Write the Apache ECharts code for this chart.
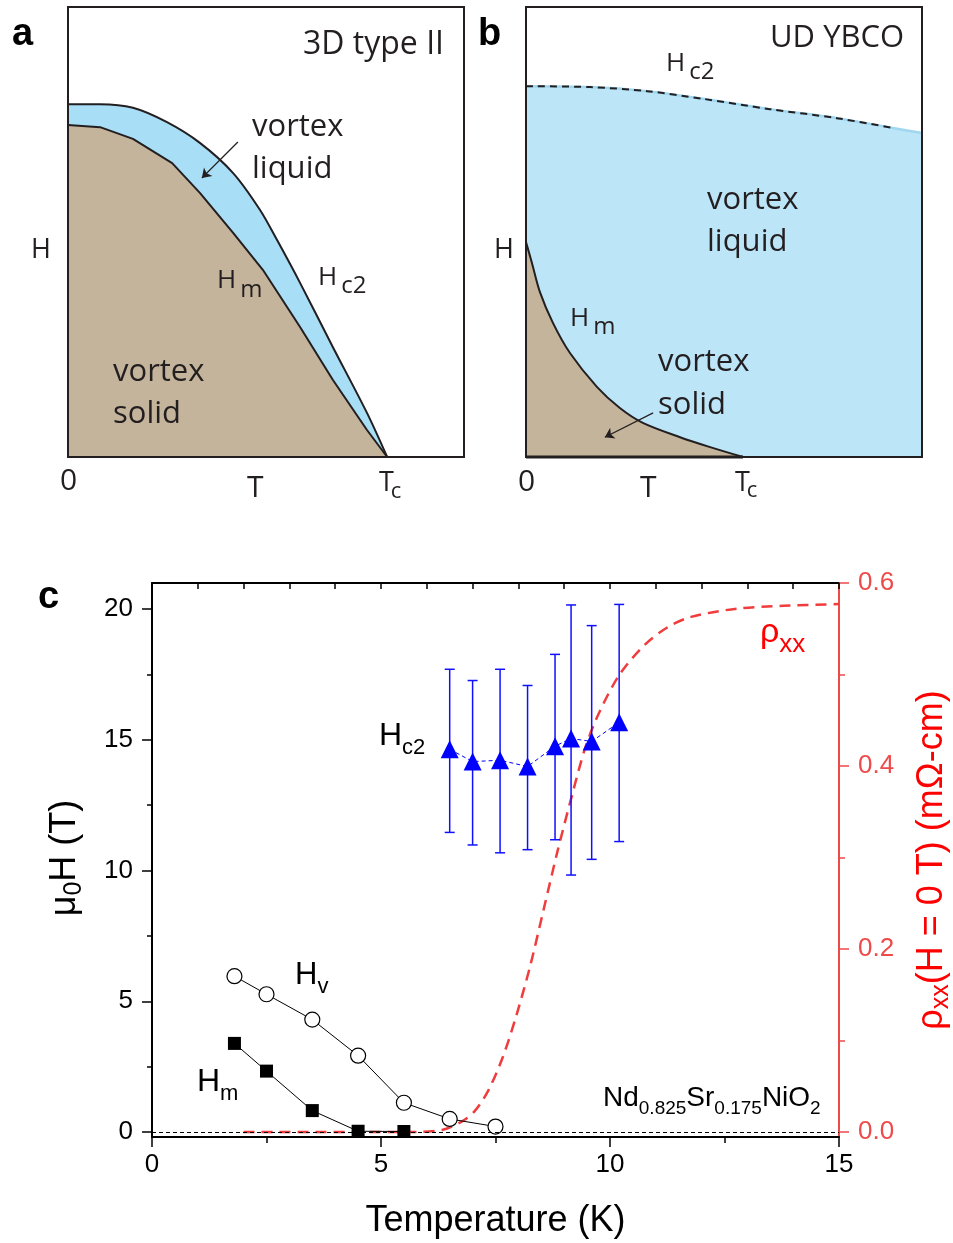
<!DOCTYPE html>
<html>
<head>
<meta charset="utf-8">
<script src="https://cdn.jsdelivr.net/npm/echarts@6/dist/echarts.min.js"></script>
<style>
html, body { margin: 0; padding: 0; background: #fff; }
#chart { width: 953px; height: 1243px; }
</style>
</head>
<body>
<div id="chart"></div>
<script>
// ---- panel a: 3D type II schematic (units: % of the box) ----
const aHc2 = [[0, 78.4], [8.1, 78.4], [16.4, 77.6], [25, 74.4], [33.3, 69.8], [41.7, 63.1], [48.5, 54.9], [52.8, 48.2], [58.6, 38.7], [66.9, 24.4], [75.5, 9.8], [80.6, 0]];
const aHm = [[0, 73.8], [8.1, 73.3], [16.4, 70.7], [26.3, 65.3], [33.3, 58.7], [41.7, 49.8], [49.2, 41.6], [58.6, 28.9], [66.9, 17.1], [75.5, 6], [80.6, 0]];
const aArrow = [[42.9, 70], [33.8, 62]];

// ---- panel b: UD YBCO schematic ----
const bHc2 = [[0, 82.4], [16.2, 82.2], [30.6, 81.3], [44.7, 79.6], [61.6, 77.3], [78.5, 75.3], [92.7, 73.1], [100, 72]];
const bHm = [[0, 47.8], [1.5, 43.1], [3.5, 36.7], [6.8, 29.8], [11.1, 23.1], [17.9, 15.6], [23.7, 10.9], [29.5, 7.6], [38.9, 4.4], [46.5, 2.2], [54.8, 0]];
const bArrow = [[32.1, 9.8], [19.9, 4.4]];

// ---- panel c: Nd0.825Sr0.175NiO2 ----
const hc2T = [6.5, 7.0, 7.6, 8.2, 8.8, 9.15, 9.6, 10.2];
const hc2 = [14.64, 14.17, 14.22, 13.98, 14.76, 15.05, 14.94, 15.67];
const hc2Hi = [17.70, 17.27, 17.70, 17.08, 18.27, 20.16, 19.37, 20.18];
const hc2Lo = [11.46, 10.98, 10.68, 10.80, 11.18, 9.83, 10.43, 11.11];
const hvT = [1.8, 2.5, 3.5, 4.5, 5.5, 6.5, 7.5];
const hv = [5.96, 5.27, 4.30, 2.92, 1.12, 0.50, 0.21];
const hmT = [1.8, 2.5, 3.5, 4.5, 5.5];
const hm = [3.39, 2.33, 0.82, 0.03, 0.02];
const rhoT = [2.0, 5.75, 6.35, 6.75, 7.05, 7.35, 7.66, 7.96, 8.26, 8.56, 8.86, 9.16, 9.46, 9.76, 10.21, 10.77, 11.27, 11.77, 12.77, 13.78, 15];
const rho = [0, 0, 0.0025, 0.011, 0.023, 0.046, 0.082, 0.128, 0.182, 0.245, 0.308, 0.366, 0.42, 0.458, 0.5, 0.533, 0.552, 0.563, 0.572, 0.575, 0.577];
const leftTicks = [0, 5, 10, 15, 20];
const leftMinor = [2.5, 7.5, 12.5, 17.5];
const rightTicks = [0, 0.2, 0.4, 0.6];
const rightMinor = [0.1, 0.3, 0.5];

const INK = '#231f20';
const SANS = 'Liberation Sans';
const MYR = 'Open Sans';
const RED = '#ef4a4a';

const chart = echarts.init(document.getElementById('chart'));

// text made of pieces (for subscripts); x,y = start / middle line
const meas = document.createElement('canvas').getContext('2d');
function label(x, y, parts, opt) {
  opt = opt || {};
  const family = opt.family || SANS;
  const weight = opt.weight || 'normal';
  const color = opt.color || '#000';
  let cx = 0;
  const kids = [];
  parts.forEach(function (p) {
    const size = p[1], dy = p[2] || 0, dx = p[3] || 0;
    cx += dx;
    kids.push({
      type: 'text', x: cx, y: dy, z: 100,
      style: { text: p[0], fill: color, fontSize: size, fontFamily: family, fontWeight: weight, align: 'left', verticalAlign: 'middle' }
    });
    meas.font = weight + ' ' + size + 'px "' + family + '"';
    cx += meas.measureText(p[0]).width;
  });
  if (opt.center) kids.forEach(function (k) { k.x -= cx / 2; });
  return { type: 'group', x: x, y: y, z: 100, rotation: opt.rotation || 0, silent: true, children: kids };
}

const hidden = function (grid) { return { type: 'value', gridIndex: grid, min: 0, max: 100, show: false }; };
const schemLine = function (grid, data, line, area, z, smooth) {
  return {
    type: 'line', xAxisIndex: grid, yAxisIndex: grid, data: data, symbol: 'none', smooth: smooth || false,
    lineStyle: line, areaStyle: area ? { color: area, opacity: 1 } : undefined, z: z, silent: true, clip: false
  };
};
const arrow = function (pts) {
  return {
    symbol: ['none', 'arrow'], symbolSize: 9, silent: true, label: { show: false },
    lineStyle: { color: INK, width: 1.2, type: 'solid' },
    data: [[{ coord: pts[0] }, { coord: pts[1] }]]
  };
};

const tickStyle = { color: '#000', width: 1.5 };

chart.setOption({
  animation: false,
  grid: [
    { left: 68, top: 7, width: 396, height: 450, show: true, borderColor: INK, borderWidth: 2, backgroundColor: 'transparent', z: 5 },
    { left: 526, top: 7, width: 396, height: 450, show: true, borderColor: INK, borderWidth: 2, backgroundColor: 'transparent', z: 5 },
    { left: 152, top: 583, width: 687, height: 554 },
    { left: 152, top: 583, width: 687, height: 554 }
  ],
  xAxis: [
    hidden(0), hidden(1),
    {
      type: 'value', gridIndex: 2, position: 'bottom', min: 0, max: 15, interval: 5,
      axisLine: { onZero: false, lineStyle: { color: '#000', width: 2 } },
      axisTick: { length: 10, lineStyle: tickStyle },
      minorTick: { show: true, splitNumber: 2, length: 6, lineStyle: tickStyle },
      axisLabel: { fontSize: 26, fontFamily: SANS, color: '#000', margin: 15 },
      splitLine: { show: false }
    },
    {
      type: 'value', gridIndex: 2, position: 'top', min: 0, max: 15, interval: 1,
      axisLine: { onZero: false, lineStyle: { color: '#000', width: 2 } },
      axisTick: { inside: true, length: 6, lineStyle: tickStyle },
      axisLabel: { show: false }, splitLine: { show: false }
    },
    { type: 'value', gridIndex: 3, min: 0, max: 15, show: false }
  ],
  yAxis: [
    hidden(0), hidden(1),
    {
      type: 'value', gridIndex: 2, position: 'left', min: -0.19, max: 21,
      axisLine: { show: true, onZero: false, lineStyle: { color: '#000', width: 2 } },
      axisTick: { show: true, length: 10, customValues: leftTicks, lineStyle: tickStyle },
      axisLabel: { customValues: leftTicks, fontSize: 26, fontFamily: SANS, color: '#000', margin: 19 },
      splitLine: { show: false }
    },
    {
      type: 'value', gridIndex: 2, position: 'right', min: -0.0055, max: 0.6,
      axisLine: { show: true, onZero: false, lineStyle: { color: RED, width: 2 } },
      axisTick: { show: true, length: 10, customValues: rightTicks, lineStyle: { color: RED, width: 1.5 } },
      axisLabel: { customValues: rightTicks, formatter: function (v) { return v.toFixed(1); }, fontSize: 26, fontFamily: SANS, color: RED, margin: 19 },
      splitLine: { show: false }
    },
    {
      type: 'value', gridIndex: 3, position: 'left', min: -0.19, max: 21,
      axisLine: { show: false, onZero: false },
      axisTick: { show: true, length: 5, customValues: leftMinor, lineStyle: tickStyle },
      axisLabel: { show: false }, splitLine: { show: false }
    },
    {
      type: 'value', gridIndex: 3, position: 'right', min: -0.0055, max: 0.6,
      axisLine: { show: false, onZero: false },
      axisTick: { show: true, length: 6, customValues: rightMinor, lineStyle: { color: RED, width: 1.5 } },
      axisLabel: { show: false }, splitLine: { show: false }
    }
  ],
  series: [
    // panel a
    schemLine(0, aHc2, { color: INK, width: 2 }, '#a9def7', 1, 0.3),
    Object.assign(schemLine(0, aHm, { color: INK, width: 2 }, '#c4b49b', 2), { markLine: arrow(aArrow) }),
    // panel b
    schemLine(1, bHc2, { color: '#9fd6f0', width: 2.5 }, '#bde5f8', 1, 0.3),
    Object.assign(schemLine(1, bHm, { color: INK, width: 2 }, '#c4b49b', 2, 0.3), { markLine: arrow(bArrow) }),
    schemLine(1, bHc2.slice(0, 7), { color: INK, width: 2, type: [7, 5] }, null, 3, 0.3),
    schemLine(1, [[bHm[0][0], 0], [bHm[bHm.length - 1][0], 0]], { color: INK, width: 3 }, null, 3),
    // panel c
    {
      name: 'rho', type: 'line', xAxisIndex: 2, yAxisIndex: 3,
      data: rhoT.map(function (t, i) { return [t, rho[i]]; }),
      symbol: 'none', smooth: 0.3, z: 2,
      lineStyle: { color: '#f03c3c', width: 2.5, type: [11, 7] }
    },
    {
      name: 'Hc2 err', type: 'custom', xAxisIndex: 2, yAxisIndex: 2, z: 3,
      data: hc2T.map(function (t, i) { return [t, hc2Lo[i], hc2Hi[i]]; }),
      encode: { x: 0, y: [1, 2] },
      renderItem: function (params, api) {
        const x = api.value(0);
        const lo = api.coord([x, api.value(1)]);
        const hi = api.coord([x, api.value(2)]);
        const w = 5;
        const st = { stroke: '#1010ff', lineWidth: 1.5 };
        return {
          type: 'group', children: [
            { type: 'line', shape: { x1: lo[0], y1: lo[1], x2: hi[0], y2: hi[1] }, style: st },
            { type: 'line', shape: { x1: lo[0] - w, y1: lo[1], x2: lo[0] + w, y2: lo[1] }, style: st },
            { type: 'line', shape: { x1: hi[0] - w, y1: hi[1], x2: hi[0] + w, y2: hi[1] }, style: st }
          ]
        };
      }
    },
    {
      name: 'Hc2', type: 'line', xAxisIndex: 2, yAxisIndex: 2, z: 4,
      data: hc2T.map(function (t, i) { return [t, hc2[i]]; }),
      symbol: 'triangle', symbolSize: 18,
      itemStyle: { color: '#0000ff' },
      lineStyle: { color: '#0000ff', width: 1, type: [4, 3] }
    },
    {
      name: 'Hv', type: 'line', xAxisIndex: 2, yAxisIndex: 2, z: 4,
      data: hvT.map(function (t, i) { return [t, hv[i]]; }),
      symbol: 'circle', symbolSize: 15,
      itemStyle: { color: '#fff', borderColor: '#000', borderWidth: 1.2 },
      lineStyle: { color: '#000', width: 1 }
    },
    {
      name: 'Hm', type: 'line', xAxisIndex: 2, yAxisIndex: 2, z: 4,
      data: hmT.map(function (t, i) { return [t, hm[i]]; }),
      symbol: 'rect', symbolSize: 13,
      itemStyle: { color: '#000' },
      lineStyle: { color: '#000', width: 1 },
      markLine: {
        symbol: 'none', silent: true, label: { show: false },
        lineStyle: { color: '#000', width: 1, type: [4, 3] },
        data: [{ yAxis: 0 }]
      }
    }
  ],
  graphic: [
    // panel a
    label(12, 35, [['a', 38]], { weight: 'bold' }),
    label(303, 45, [['3D type II', 32]], { family: MYR, color: INK }),
    label(252, 127, [['vortex', 31]], { family: MYR, color: INK }),
    label(252, 169, [['liquid', 31]], { family: MYR, color: INK }),
    label(31, 250, [['H', 27]], { family: MYR, color: INK }),
    label(217, 281, [['H', 26], ['m', 24, 9, 4]], { family: MYR, color: INK }),
    label(318, 278, [['H', 26], ['c2', 24, 8, 4]], { family: MYR, color: INK }),
    label(113, 372, [['vortex', 31]], { family: MYR, color: INK }),
    label(113, 414, [['solid', 31]], { family: MYR, color: INK }),
    label(60, 481, [['0', 30]], { family: MYR, color: INK }),
    label(247, 488, [['T', 30]], { family: MYR, color: INK }),
    label(379, 483, [['T', 27], ['c', 22, 9, -3]], { family: MYR, color: INK }),
    // panel b
    label(478, 35, [['b', 38]], { weight: 'bold' }),
    label(770, 38, [['UD YBCO', 31]], { family: MYR, color: INK }),
    label(666, 64, [['H', 26], ['c2', 24, 8, 4]], { family: MYR, color: INK }),
    label(707, 200, [['vortex', 31]], { family: MYR, color: INK }),
    label(707, 242, [['liquid', 31]], { family: MYR, color: INK }),
    label(494, 250, [['H', 27]], { family: MYR, color: INK }),
    label(570, 319, [['H', 26], ['m', 24, 8, 4]], { family: MYR, color: INK }),
    label(658, 362, [['vortex', 31]], { family: MYR, color: INK }),
    label(658, 405, [['solid', 31]], { family: MYR, color: INK }),
    label(518, 482, [['0', 30]], { family: MYR, color: INK }),
    label(640, 488, [['T', 30]], { family: MYR, color: INK }),
    label(735, 483, [['T', 27], ['c', 22, 8, -3]], { family: MYR, color: INK }),
    // panel c
    label(38, 598, [['c', 38]], { weight: 'bold' }),
    label(379, 736, [['H', 32], ['c2', 22, 12]]),
    label(295, 975, [['H', 31], ['v', 22, 12]]),
    label(197, 1082, [['H', 32], ['m', 22, 12]]),
    label(760, 633, [['ρ', 34], ['xx', 26, 12]], { color: '#ff0000' }),
    label(603, 1098, [['Nd', 28], ['0.825', 19, 11], ['Sr', 28], ['0.175', 19, 11], ['NiO', 28], ['2', 19, 11]]),
    label(495.5, 1221, [['Temperature (K)', 36]], { center: true }),
    label(65, 858, [['μ', 36], ['0', 25, 9], ['H (T)', 36]], { center: true, rotation: Math.PI / 2 }),
    label(932, 860, [['ρ', 36], ['xx', 25, 9], ['(H = 0 T) (mΩ-cm)', 36]], { center: true, rotation: Math.PI / 2, color: '#ff0000' })
  ]
});
</script>
</body>
</html>
